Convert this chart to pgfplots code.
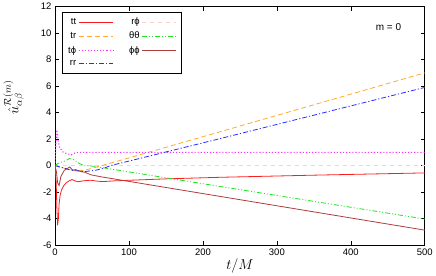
\documentclass[border=0pt]{standalone}
\usepackage{fontspec}
\setmainfont{Liberation Sans}
\usepackage{pgfplots}
\pgfplotsset{compat=1.18}
\definecolor{cTT}{RGB}{250,30,30}
\definecolor{cTR}{RGB}{255,170,40}
\definecolor{cTP}{RGB}{255,40,255}
\definecolor{cRR}{RGB}{40,40,255}
\definecolor{cRP}{RGB}{255,205,205}
\definecolor{cQQ}{RGB}{30,225,30}
\definecolor{cPP}{RGB}{175,60,60}
\begin{document}
\begin{tikzpicture}
\begin{axis}[
  scale only axis, width=369bp, height=238bp,
  xmin=0, xmax=500, ymin=-6, ymax=12,
  xtick={0,100,...,500}, ytick={-6,-4,...,12},
  tick align=inside, major tick length=4pt,
  minor tick num=0,
  /pgf/number format/assume math mode=true,
  ticklabel style={font=\fontsize{9.5}{10}\selectfont},
  axis line style={line width=0.9pt},
  every tick/.style={black, line width=0.6pt},
  xlabel={$t/M$}, xlabel style={font=\fontsize{14}{15}\selectfont, yshift=4pt},
  ylabel={$\hat{u}^{\mathcal{R}(m)}_{\alpha\beta}$},
  ylabel style={font=\fontsize{14}{15}\selectfont, at={(rel axis cs:-0.075,0.62)}, anchor=south},
  legend columns=2,
  legend plot pos=right,
  legend cell align=right,
  legend style={at={(rel axis cs:0.019,0.979)}, anchor=north west,
    font=\fontsize{9.5}{10}\selectfont, inner xsep=4pt, inner ysep=4pt, row sep=1.8pt,
    nodes={text=black},
    /tikz/every even column/.append style={column sep=14pt}},
  legend image code/.code={\draw[#1, line width=0.9pt] (0cm,0cm) -- (1.2cm,0cm);},
  clip=true,
]
% tt
\addplot[draw=cTT, color=cTT, line width=0.8pt] coordinates {(0,0) (1.5,-1.2) (2.5,-3.2) (3.5,-4.5) (4.5,-4.0) (5.5,-2.9) (7,-2.2) (9,-1.8) (12,-1.5) (15,-1.3) (19,-1.15) (23,-1.05) (27,-1.15) (31,-1.22) (38,-1.15) (48,-1.1) (58,-1.18) (66,-1.2) (80,-1.15) (103,-1.1) (150,-1.0) (224,-0.88) (350,-0.72) (500,-0.55)};
\addlegendentry{tt}
% r phi
\addplot[draw=cRP, color=cRP, line width=0.8pt, dash pattern=on 4pt off 4pt] coordinates {(0,0) (500,0)};
\addlegendentry{rϕ}
% tr
\addplot[draw=cTR, color=cTR, line width=0.8pt, dash pattern=on 5pt off 3pt] coordinates {(0,0) (5,-0.1) (17,-0.25) (30,-0.4) (40,-0.35) (49,-0.22) (63,0) (103,0.63) (224,2.57) (500,7.0)};
\addlegendentry{tr}
% theta theta
\addplot[draw=cQQ, color=cQQ, line width=0.8pt, dash pattern=on 5pt off 2pt on 1pt off 2pt on 1pt off 2pt] coordinates {(0,0) (3.6,0.15) (8,0.25) (12.6,0.33) (19.4,0.53) (24,0.5) (28,0.35) (33,0.15) (40,0.0) (53,-0.05) (58,-0.1) (103,-0.5) (224,-1.58) (500,-4.03)};
\addlegendentry{θθ}
% t phi
\addplot[draw=cTP, color=cTP, line width=1.1pt, dotted] coordinates {(0,0) (1,1.5) (2.5,2.7) (4,2.0) (6,1.4) (10,1.05) (16,0.9) (22,0.82) (28,0.98) (35,1.0) (500,1.0)};
\addlegendentry{tϕ}
% phi phi
\addplot[draw=cPP, color=cPP, line width=0.8pt] coordinates {(0,0) (2,-0.5) (3.5,-1.3) (5.5,-1.5) (8,-0.8) (12.6,-0.35) (17,-0.2) (20,-0.1) (24,-0.35) (28,-0.3) (35,-0.45) (40,-0.5) (49,-0.7) (63,-0.85) (225,-2.34) (500,-4.87)};
\addlegendentry{ϕϕ}
% rr
\addplot[draw=cRR, color=cRR, line width=0.8pt, dash pattern=on 5pt off 2pt on 1.2pt off 2pt] coordinates {(0,0) (10,-0.15) (22,-0.35) (40,-0.45) (55,-0.35) (66,-0.2) (75,0) (102,0.37) (224,2.05) (500,5.9)};
\addlegendentry{rr}
\addlegendimage{empty legend}
\addlegendentry{}
\node[font=\fontsize{10}{11}\selectfont] at (rel axis cs:0.902,0.916) {m = 0};
\end{axis}
\end{tikzpicture}
\end{document}
